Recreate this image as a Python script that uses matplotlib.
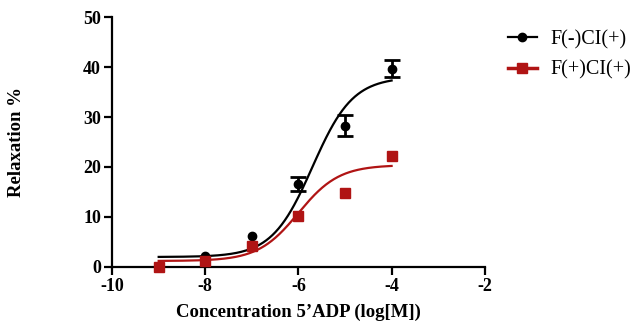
import numpy as np
import matplotlib
matplotlib.use("Agg")
import matplotlib.pyplot as plt
from matplotlib.lines import Line2D

# Data
black_x = [-8, -7, -6, -5, -4]
black_y = [2.2, 6.1, 16.5, 28.3, 39.7]
black_err = [0.0, 0.0, 1.4, 2.2, 1.7]
red_x = [-9, -8, -7, -6, -5, -4]
red_y = [0.0, 1.2, 4.2, 10.2, 14.8, 22.1]
# 4-parameter logistic fit parameters (bottom, top, logEC50, hill)
black_fit = [2.0, 38.0, -5.7, 1.0]
red_fit = [1.2, 20.4, -6.0, 1.0]
labels = ["F(-)CI(+)", "F(+)CI(+)"]
xticks = [-10, -8, -6, -4, -2]
yticks = [0, 10, 20, 30, 40, 50]

RED = "#B01414"
plt.rcParams['font.family'] = ['Liberation Serif', 'DejaVu Serif']
plt.rcParams['axes.unicode_minus'] = False

def logistic(x, p):
    b, t, ec, h = p
    return b + (t - b) / (1 + 10 ** ((ec - x) * h))

fig = plt.figure(figsize=(6.37, 3.27), dpi=100)
ax = fig.add_axes([0.176, 0.1835, 0.585, 0.7645])

xs = np.linspace(-9, -4, 300)
ax.plot(xs, logistic(xs, black_fit), color="black", lw=1.6)
ax.plot(xs, logistic(xs, red_fit), color=RED, lw=1.6)

ax.plot(black_x, black_y, 'o', color='black', ms=6, clip_on=False, zorder=5)
ex = [x for x, e in zip(black_x, black_err) if e > 0]
ey = [y for y, e in zip(black_y, black_err) if e > 0]
ee = [e for e in black_err if e > 0]
ax.errorbar(ex, ey, yerr=ee, fmt='none', ecolor='black',
            capsize=6, elinewidth=2, capthick=2, zorder=5)
ax.plot(red_x, red_y, 's', color=RED, ms=6.5, clip_on=False, zorder=5)

ax.set_xlim(-10, -2)
ax.set_ylim(0, 50)
ax.set_xticks(xticks)
ax.set_yticks(yticks)
for s in ['top', 'right']:
    ax.spines[s].set_visible(False)
for s in ['left', 'bottom']:
    ax.spines[s].set_linewidth(1.6)
ax.tick_params(width=1.6, length=6, labelsize=13, pad=2)
for lab in ax.get_xticklabels() + ax.get_yticklabels():
    lab.set_fontweight('bold')
ax.set_xlabel("Concentration 5\u2019ADP (log[M])", fontsize=13.5, fontweight='bold', labelpad=6)
ax.set_ylabel("Relaxation %", fontsize=13.5, fontweight='bold', labelpad=42)

h1 = Line2D([], [], color='black', marker='o', ms=6, lw=1.6)
h2 = Line2D([], [], color=RED, marker='s', ms=7, lw=2.5)
fig.legend([h1, h2], labels, loc='upper left', bbox_to_anchor=(0.797, 0.908),
           frameon=False, fontsize=14.5, handlelength=1.45, handletextpad=0.65,
           labelspacing=0.55, borderpad=0, borderaxespad=0)

fig.savefig("out.png", dpi=100)
